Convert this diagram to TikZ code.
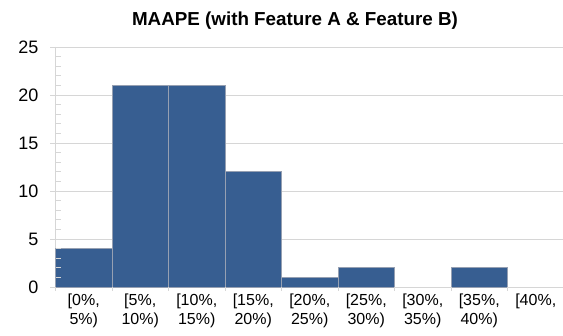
\documentclass[tikz,border=0pt]{standalone}
\usepackage{fontspec}
\setmainfont{Liberation Sans}
\definecolor{barblue}{RGB}{55,94,145}
\definecolor{baredge}{RGB}{150,160,178}
\definecolor{gridgray}{RGB}{214,214,214}
\tikzset{
  grid line/.style={draw=gridgray, line width=0.9pt},
  bar/.style={fill=barblue, draw=baredge, line width=0.8pt},
  ylab/.style={anchor=east, font=\fontsize{18}{20}\selectfont, inner sep=0pt},
  xlab/.style={anchor=north, align=center, font=\fontsize{16}{19}\selectfont, inner sep=0pt},
  titlestyle/.style={font=\bfseries\fontsize{18.8}{21}\selectfont, inner sep=0pt}
}
\begin{document}
\begin{tikzpicture}[x=1pt,y=-1pt]
\useasboundingbox (0,0) rectangle (563,336);
% grid lines
\foreach \v in {0,5,...,25}{
  \draw[grid line] (50,{287-9.6*\v}) -- (563,{287-9.6*\v});
}
% y axis
\draw[grid line] (55.5,47) -- (55.5,287);
% bars
\foreach \i/\h in {0/4,1/21,2/21,3/12,4/1,5/2,7/2}{
  \path[bar] ({55.5+56.5*\i},287) rectangle ({55.5+56.5*(\i+1)},{287-9.6*\h});
}
% minor ticks
\foreach \v in {1,...,24}{
  \draw[draw=gridgray, line width=0.8pt] (55.5,{287-9.6*\v}) -- (60.5,{287-9.6*\v});
}
% x ticks
\foreach \i in {0,...,9}{
  \draw[grid line] ({55.5+56.5*\i},287) -- ({55.5+56.5*\i},291);
}
% y labels
\foreach \v in {0,5,...,25}{
  \node[ylab] (y\v) at (38.5,{287-9.6*\v}) {\v};
}
% x labels
\node[xlab] (x0) at (83.75,294) {[0\%,\\5\%)};
\node[xlab] (x1) at (140.25,294) {[5\%,\\10\%)};
\node[xlab] (x2) at (196.75,294) {[10\%,\\15\%)};
\node[xlab] (x3) at (253.25,294) {[15\%,\\20\%)};
\node[xlab] (x4) at (309.75,294) {[20\%,\\25\%)};
\node[xlab] (x5) at (366.25,294) {[25\%,\\30\%)};
\node[xlab] (x6) at (422.75,294) {[30\%,\\35\%)};
\node[xlab] (x7) at (479.25,294) {[35\%,\\40\%)};
\node[xlab] (x8) at (535.75,294) {[40\%,};
% title
\node[titlestyle] (title) at (295,21) {MAAPE (with Feature A \& Feature B)};
\end{tikzpicture}
\end{document}
